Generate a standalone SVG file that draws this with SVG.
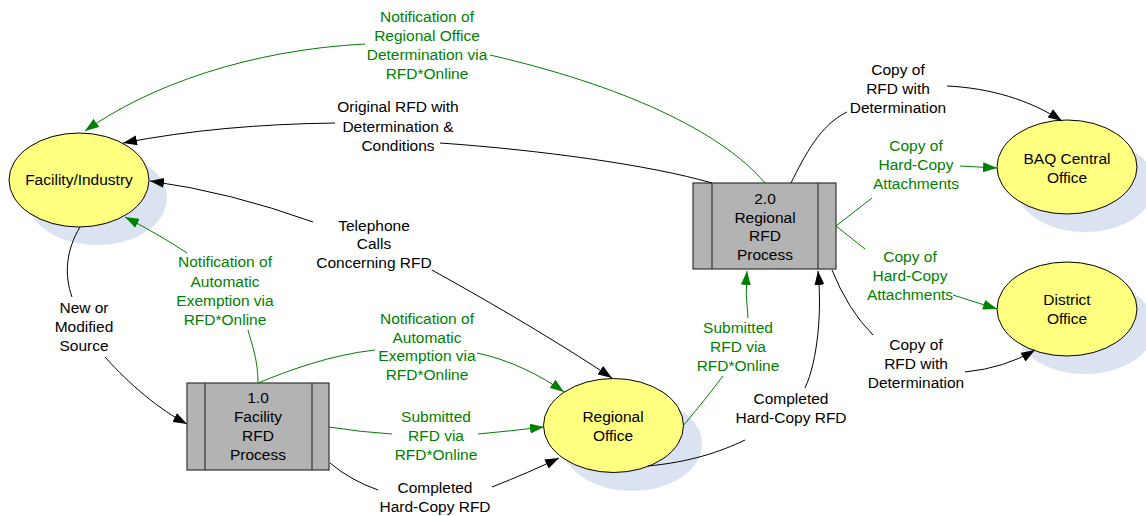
<svg xmlns="http://www.w3.org/2000/svg" width="1146" height="516" viewBox="0 0 1146 516">
<style>
text{font-family:"Liberation Sans",Arial,sans-serif;font-size:15.5px;text-anchor:middle}
.g{fill:#008000}
.k{fill:#000}
.sh{fill:#dbe3f2}
.el{fill:#ffff80;stroke:#000;stroke-width:1}
.bx{fill:#b3b3b3;stroke:#333;stroke-width:1.2}
.ln{fill:none;stroke:#333;stroke-width:1.2}
.cb{fill:none;stroke:#000;stroke-width:1}
.cg{fill:none;stroke:#008000;stroke-width:1}
.mb{marker-end:url(#ab)}
.mg{marker-end:url(#ag)}
</style>
<defs>
<marker id="ab" markerWidth="14" markerHeight="10" refX="14" refY="5" orient="auto" markerUnits="userSpaceOnUse"><path d="M0,0 L14,5 L0,10 z" fill="#000"/></marker>
<marker id="ag" markerWidth="14" markerHeight="10" refX="14" refY="5" orient="auto" markerUnits="userSpaceOnUse"><path d="M0,0 L14,5 L0,10 z" fill="#008000"/></marker>
</defs>
<rect width="1146" height="516" fill="#fff"/>
<g id="facility">
<ellipse class="sh" cx="97" cy="198" rx="70" ry="47"/>
<ellipse class="el" cx="79" cy="180" rx="70" ry="47"/>
<text class="k" x="79" y="185">Facility/Industry</text>
</g>
<g id="regional">
<ellipse class="sh" cx="632" cy="444" rx="70" ry="47"/>
<ellipse class="el" cx="613.5" cy="425.5" rx="70" ry="47"/>
<text class="k" x="613" y="422">Regional</text>
<text class="k" x="613" y="441">Office</text>
</g>
<g id="baq">
<ellipse class="sh" cx="1085" cy="185" rx="70" ry="47"/>
<ellipse class="el" cx="1067" cy="167" rx="70" ry="47"/>
<text class="k" x="1067" y="164">BAQ Central</text>
<text class="k" x="1067" y="183">Office</text>
</g>
<g id="district">
<ellipse class="sh" cx="1085" cy="327" rx="70" ry="47"/>
<ellipse class="el" cx="1067" cy="309" rx="70" ry="47"/>
<text class="k" x="1067" y="305">District</text>
<text class="k" x="1067" y="324">Office</text>
</g>
<g id="p1">
<rect class="bx" x="187" y="383" width="142" height="87"/>
<line class="ln" x1="205" y1="383" x2="205" y2="470"/>
<line class="ln" x1="312" y1="383" x2="312" y2="470"/>
<text class="k" x="258" y="403">1.0</text>
<text class="k" x="258" y="422">Facility</text>
<text class="k" x="258" y="441">RFD</text>
<text class="k" x="258" y="460">Process</text>
</g>
<g id="p2">
<rect class="bx" x="693" y="183" width="143" height="86"/>
<line class="ln" x1="712" y1="183" x2="712" y2="269"/>
<line class="ln" x1="818" y1="183" x2="818" y2="269"/>
<text class="k" x="765" y="204">2.0</text>
<text class="k" x="765" y="223">Regional</text>
<text class="k" x="765" y="241">RFD</text>
<text class="k" x="765" y="260">Process</text>
</g>
<g id="connectors">
<path class="cg" d="M765,183 C720,130 620,85 490,55"/>
<path class="cg mg" d="M365,44 C250,50 150,85 85,131"/>
<text class="g" x="427" y="22">Notification of</text>
<text class="g" x="427" y="41">Regional Office</text>
<text class="g" x="427" y="60">Determination via</text>
<text class="g" x="427" y="79">RFD*Online</text>

<path class="cb" d="M712,183 C650,165 540,150 440,143"/>
<path class="cb mb" d="M335,123 C260,124 190,130 123,143"/>
<text class="k" x="398" y="112">Original RFD with</text>
<text class="k" x="398" y="132">Determination &amp;</text>
<text class="k" x="398" y="151">Conditions</text>

<path class="cb mb" d="M313,222 Q230,192 150,181"/>
<path class="cb mb" d="M432,270 Q540,330 612,378"/>
<text class="k" x="374" y="231">Telephone</text>
<text class="k" x="374" y="249">Calls</text>
<text class="k" x="374" y="268">Concerning RFD</text>

<path class="cb" d="M80,227 C66,250 64,275 72,297"/>
<path class="cb mb" d="M105,357 C130,385 160,410 187,424"/>
<text class="k" x="84" y="313">New or</text>
<text class="k" x="84" y="332">Modified</text>
<text class="k" x="84" y="351">Source</text>

<path class="cg" d="M258,383 C258,360 252,345 248,330"/>
<path class="cg mg" d="M187,253 Q160,235 125,217"/>
<text class="g" x="225" y="267">Notification of</text>
<text class="g" x="225" y="287">Automatic</text>
<text class="g" x="225" y="306">Exemption via</text>
<text class="g" x="225" y="325">RFD*Online</text>

<path class="cg" d="M258,383 C290,370 330,355 375,350"/>
<path class="cg mg" d="M477,353 C510,360 540,375 564,392"/>
<text class="g" x="427" y="324">Notification of</text>
<text class="g" x="427" y="343">Automatic</text>
<text class="g" x="427" y="361">Exemption via</text>
<text class="g" x="427" y="380">RFD*Online</text>

<path class="cg" d="M329,427 Q360,432 392,434"/>
<path class="cg mg" d="M478,434 Q510,431 544,427"/>
<text class="g" x="436" y="422">Submitted</text>
<text class="g" x="436" y="441">RFD via</text>
<text class="g" x="436" y="460">RFD*Online</text>

<path class="cb" d="M330,463 Q350,480 378,490"/>
<path class="cb mb" d="M492,487 Q530,472 559,458"/>
<text class="k" x="435" y="493">Completed</text>
<text class="k" x="435" y="512">Hard-Copy RFD</text>

<path class="cg" d="M683,426 Q705,400 723,376"/>
<path class="cg mg" d="M748,318 Q745,295 747,271"/>
<text class="g" x="738" y="333">Submitted</text>
<text class="g" x="738" y="352">RFD via</text>
<text class="g" x="738" y="371">RFD*Online</text>

<path class="cb" d="M648,466 C690,462 720,452 745,440"/>
<path class="cb mb" d="M805,388 C818,360 822,310 818,271"/>
<text class="k" x="791" y="404">Completed</text>
<text class="k" x="791" y="423">Hard-Copy RFD</text>

<path class="cb" d="M791,183 C805,155 820,125 847,112"/>
<path class="cb mb" d="M947,86 C990,88 1030,100 1062,121"/>
<text class="k" x="898" y="75">Copy of</text>
<text class="k" x="898" y="94">RFD with</text>
<text class="k" x="898" y="113">Determination</text>

<path class="cg" d="M836,226 L872,198"/>
<path class="cg mg" d="M960,166 L997,168"/>
<text class="g" x="916" y="151">Copy of</text>
<text class="g" x="916" y="170">Hard-Copy</text>
<text class="g" x="916" y="189">Attachments</text>

<path class="cg" d="M836,226 L865,249"/>
<path class="cg mg" d="M953,295 L997,309"/>
<text class="g" x="910" y="262">Copy of</text>
<text class="g" x="910" y="281">Hard-Copy</text>
<text class="g" x="910" y="300">Attachments</text>

<path class="cb" d="M832,270 Q848,310 873,335"/>
<path class="cb mb" d="M965,372 Q1005,368 1035,350"/>
<text class="k" x="916" y="350">Copy of</text>
<text class="k" x="916" y="369">RFD with</text>
<text class="k" x="916" y="388">Determination</text>
</g>
</svg>
